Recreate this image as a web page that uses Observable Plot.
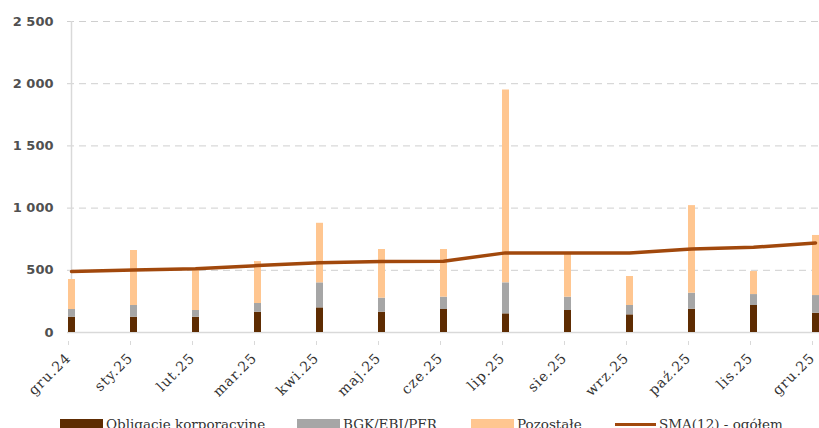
<!DOCTYPE html>
<html>
<head>
<meta charset="utf-8">
<script src="https://cdn.jsdelivr.net/npm/d3@7"></script>
<script src="https://cdn.jsdelivr.net/npm/@observablehq/plot@0.6"></script>
<style>
  html, body { margin: 0; padding: 0; background: #fff; overflow: hidden; width: 819px; height: 428px; }
  #chart svg { display: block; }
  #legend { position: relative; height: 30px; font-family: "DejaVu Serif", serif; font-size: 13.5px; color: #333; }
  .item { position: absolute; top: 4px; display: flex; align-items: flex-start; white-space: nowrap; }
  .sw { width: 43px; height: 11px; margin-right: 3px; margin-top: 3px; }
  .ln { width: 41px; height: 3px; margin-right: 3px; margin-top: 7px; }
</style>
</head>
<body>
<div id="chart"></div>
<div id="legend"></div>
<script>
const months = ["gru.24","sty.25","lut.25","mar.25","kwi.25","maj.25","cze.25","lip.25","sie.25","wrz.25","paź.25","lis.25","gru.25"];
const corporate = [123,123,123,163,198,163,185,150,177,142,187,217,155];
const bgk       = [62,94,54,70,201,113,99,249,107,75,129,88,142];
const others    = [241,442,337,337,479,391,383,1551,346,233,704,185,483];
const sma12     = [490,503,512,538,560,570,573,640,640,640,672,685,720];
const seriesNames = ["Obligacje korporacyjne","BGK/EBI/PFR","Pozostałe"];
const seriesColors = ["#5E2C02","#A6A6A6","#FFC690"];
const lineName = "SMA(12) - ogółem";
const lineColor = "#A1480C";
const yTicks = [0,500,1000,1500,2000,2500];

const stacked = [];
months.forEach((m, i) => {
  stacked.push({month: m, series: seriesNames[0], value: corporate[i]});
  stacked.push({month: m, series: seriesNames[1], value: bgk[i]});
  stacked.push({month: m, series: seriesNames[2], value: others[i]});
});
const lineData = months.map((m, i) => ({month: m, value: sma12[i]}));

const fmt = d3.formatLocale({decimal: ",", thousands: " ", grouping: [3], currency: ["", ""]}).format(",.0f");

const chart = Plot.plot({
  width: 819,
  height: 412,
  marginLeft: 67,
  marginRight: 0,
  marginTop: 21,
  marginBottom: 80,
  x: {type: "point", domain: months, padding: 0, label: null},
  y: {domain: [0, 2500], label: null},
  color: {domain: seriesNames, range: seriesColors},
  marks: [
    Plot.gridY(yTicks.filter(d => d > 0), {stroke: "#cfcfcf", strokeOpacity: 1, strokeDasharray: "7,5", strokeWidth: 1}),
    Plot.ruleY([0], {stroke: "#d9d9d9", strokeWidth: 1.5}),
    Plot.ruleX([months[0]], {y1: 0, y2: 2500, stroke: "#d9d9d9", strokeWidth: 1.5}),
    Plot.ruleX(stacked, Plot.stackY({x: "month", y: "value", stroke: "series", strokeWidth: 7, clip: true})),
    Plot.line(lineData, {x: "month", y: "value", stroke: lineColor, strokeWidth: 3.5, clip: true}),
    Plot.axisY(yTicks, {tickSize: 0, tickPadding: 14, tickFormat: fmt, fontSize: 13, fontWeight: "bold", fill: "#505050", fontFamily: "DejaVu Sans", label: null}),
    Plot.axisX({tickSize: 4, stroke: "#d9d9d9", strokeOpacity: 1, tickRotate: -45, tickPadding: 10, dx: -3, dy: 9, fontSize: 14, fill: "#333", fontFamily: "DejaVu Serif", label: null})
  ]
});
d3.select(chart).selectAll("g[aria-label='x-axis tick label'] text").style("letter-spacing", "1px");
document.getElementById("chart").appendChild(chart);

const legend = document.getElementById("legend");
const lefts = [60, 297, 471, 615];
seriesNames.forEach((name, i) => {
  const it = document.createElement("div");
  it.className = "item";
  it.style.left = lefts[i] + "px";
  it.innerHTML = `<div class="sw" style="background:${seriesColors[i]}"></div><span>${name}</span>`;
  legend.appendChild(it);
});
const li = document.createElement("div");
li.className = "item";
li.style.left = lefts[3] + "px";
li.innerHTML = `<div class="ln" style="background:${lineColor}"></div><span>${lineName}</span>`;
legend.appendChild(li);
</script>
</body>
</html>
